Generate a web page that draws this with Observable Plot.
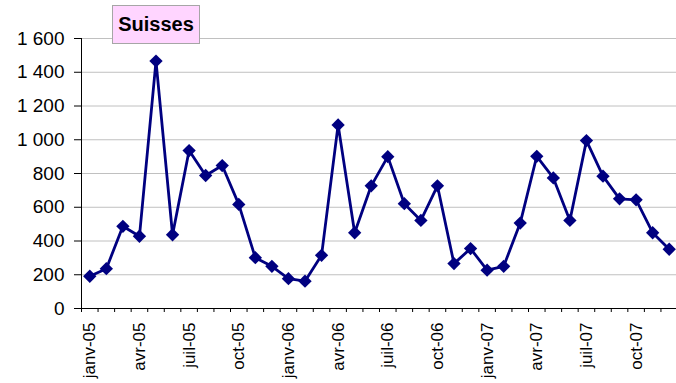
<!DOCTYPE html>
<html><head><meta charset="utf-8">
<script src="https://cdn.jsdelivr.net/npm/d3@7"></script>
<script src="https://cdn.jsdelivr.net/npm/@observablehq/plot@0.6"></script>
<style>
body{margin:0;background:#fff;}
#wrap{position:relative;width:676px;height:383px;overflow:hidden;}
#title{position:absolute;left:112px;top:5px;width:88px;height:39px;background:#ffd5ff;border:1px solid #a6a6a6;box-sizing:border-box;font:bold 20px "Liberation Sans",Arial,sans-serif;display:flex;align-items:center;justify-content:center;color:#000;}
</style></head><body><div id="wrap"><div id="title">Suisses</div></div>
<script>
const months = ["janv-05","févr-05","mars-05","avr-05","mai-05","juin-05","juil-05","août-05","sept-05","oct-05","nov-05","déc-05",
"janv-06","févr-06","mars-06","avr-06","mai-06","juin-06","juil-06","août-06","sept-06","oct-06","nov-06","déc-06",
"janv-07","févr-07","mars-07","avr-07","mai-07","juin-07","juil-07","août-07","sept-07","oct-07","nov-07","déc-07"];
const values = [191,236,487,428,1466,437,936,788,847,617,301,250,
177,162,315,1088,449,727,900,621,522,727,266,355,
227,250,506,902,774,522,995,784,650,644,449,351];
const labelMonths = ["janv-05","avr-05","juil-05","oct-05","janv-06","avr-06","juil-06","oct-06","janv-07","avr-07","juil-07","oct-07"];
const yTicks = [0,200,400,600,800,1000,1200,1400,1600];
const yTickLabels = ["0","200","400","600","800","1 000","1 200","1 400","1 600"];

const data = months.map((m,i)=>({month:m, index:i, value:values[i]}));
const yLabelMap = new Map(yTicks.map((t,i)=>[t,yTickLabels[i]]));
const labelPos = labelMonths.map(m => months.indexOf(m) + 0.5);
const labelMap = new Map(labelPos.map((p,i)=>[p,labelMonths[i]]));

const chart = Plot.plot({
  width:676, height:383, marginLeft:81, marginRight:-1, marginTop:38, marginBottom:75,
  style:{fontFamily:'"Liberation Sans", Arial, sans-serif', background:"transparent", color:"#000", overflow:"visible"},
  x:{domain:[0, months.length], axis:null},
  y:{domain:[0,1600], axis:null},
  marks:[
    Plot.gridY(yTicks, {stroke:"#c0c0c0", strokeOpacity:1, strokeWidth:1}),
    Plot.axisY(yTicks, {tickSize:7, tickPadding:10, tickFormat:d=>yLabelMap.get(d), fontSize:19, stroke:"#000", label:null}),
    Plot.axisX(d3.range(months.length+1), {tickSize:4, tickFormat:()=>"", stroke:"#000", label:null}),
    Plot.axisX(labelPos, {tickSize:0, tickRotate:-90, tickPadding:14, tickFormat:d=>labelMap.get(d), fontSize:17, label:null}),
    Plot.ruleY([0], {stroke:"#000"}),
    Plot.ruleX([0], {stroke:"#000"}),
    Plot.line(data, {x:d=>d.index+0.5, y:"value", stroke:"#000080", strokeWidth:2.8}),
    Plot.dot(data, {x:d=>d.index+0.5, y:"value", symbol:"diamond2", r:6, fill:"#000080", stroke:"none"})
  ]
});
document.getElementById("wrap").appendChild(chart);
</script></body></html>
